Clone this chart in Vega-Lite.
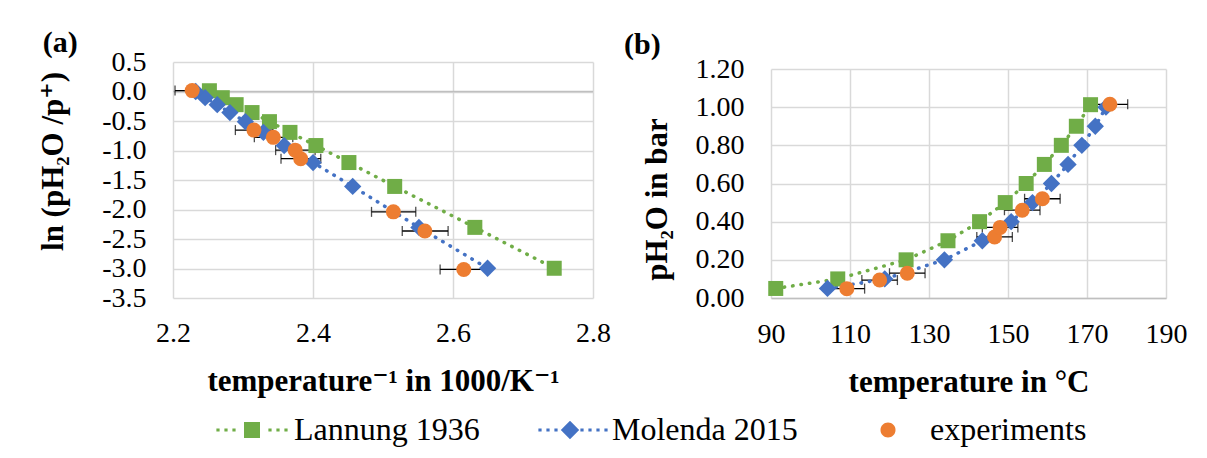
{
  "$schema": "https://vega.github.io/schema/vega-lite/v6.json",
  "background": "white",
  "padding": {"left": 37, "top": 28, "right": 5, "bottom": 5},
  "data": {"values": [
    {"series": "Lannung 1936", "T": 91.2, "p": 0.05, "invT": 2.7446, "lnp": -2.996},
    {"series": "Lannung 1936", "T": 106.9, "p": 0.10, "invT": 2.6312, "lnp": -2.303},
    {"series": "Lannung 1936", "T": 124.2, "p": 0.20, "invT": 2.5167, "lnp": -1.609},
    {"series": "Lannung 1936", "T": 134.8, "p": 0.30, "invT": 2.4513, "lnp": -1.204},
    {"series": "Lannung 1936", "T": 142.8, "p": 0.40, "invT": 2.4041, "lnp": -0.916},
    {"series": "Lannung 1936", "T": 149.3, "p": 0.50, "invT": 2.3671, "lnp": -0.693},
    {"series": "Lannung 1936", "T": 154.6, "p": 0.60, "invT": 2.3378, "lnp": -0.511},
    {"series": "Lannung 1936", "T": 159.2, "p": 0.70, "invT": 2.3129, "lnp": -0.357},
    {"series": "Lannung 1936", "T": 163.5, "p": 0.80, "invT": 2.2902, "lnp": -0.223},
    {"series": "Lannung 1936", "T": 167.3, "p": 0.90, "invT": 2.2704, "lnp": -0.105},
    {"series": "Lannung 1936", "T": 170.9, "p": 1.013, "invT": 2.2520, "lnp": 0.013},
    {"series": "Molenda 2015", "T": 104.3, "p": 0.05, "invT": 2.6494, "lnp": -2.996},
    {"series": "Molenda 2015", "T": 118.8, "p": 0.10, "invT": 2.5513, "lnp": -2.303},
    {"series": "Molenda 2015", "T": 133.9, "p": 0.20, "invT": 2.4567, "lnp": -1.609},
    {"series": "Molenda 2015", "T": 143.5, "p": 0.30, "invT": 2.4001, "lnp": -1.204},
    {"series": "Molenda 2015", "T": 150.8, "p": 0.40, "invT": 2.3588, "lnp": -0.916},
    {"series": "Molenda 2015", "T": 156.2, "p": 0.50, "invT": 2.3291, "lnp": -0.693},
    {"series": "Molenda 2015", "T": 161.0, "p": 0.60, "invT": 2.3034, "lnp": -0.511},
    {"series": "Molenda 2015", "T": 165.2, "p": 0.70, "invT": 2.2813, "lnp": -0.357},
    {"series": "Molenda 2015", "T": 168.7, "p": 0.80, "invT": 2.2632, "lnp": -0.223},
    {"series": "Molenda 2015", "T": 172.1, "p": 0.90, "invT": 2.2459, "lnp": -0.105},
    {"series": "Molenda 2015", "T": 174.8, "p": 1.00, "invT": 2.2324, "lnp": 0.0},
    {"series": "experiments", "T": 109.2, "p": 0.049, "invT": 2.6154, "lnp": -3.016, "T_lo": 104.7, "T_hi": 113.7, "inv_lo": 2.5816, "inv_hi": 2.6501},
    {"series": "experiments", "T": 117.5, "p": 0.094, "invT": 2.5598, "lnp": -2.364, "T_lo": 113.0, "T_hi": 122.0, "inv_lo": 2.5275, "inv_hi": 2.5930},
    {"series": "experiments", "T": 124.5, "p": 0.13, "invT": 2.5148, "lnp": -2.040, "T_lo": 120.0, "T_hi": 129.0, "inv_lo": 2.4836, "inv_hi": 2.5468},
    {"series": "experiments", "T": 146.6, "p": 0.32, "invT": 2.3824, "lnp": -1.139, "T_lo": 142.1, "T_hi": 151.1, "inv_lo": 2.3543, "inv_hi": 2.4111},
    {"series": "experiments", "T": 148.0, "p": 0.37, "invT": 2.3745, "lnp": -0.994, "T_lo": 143.5, "T_hi": 152.5, "inv_lo": 2.3466, "inv_hi": 2.4030},
    {"series": "experiments", "T": 153.6, "p": 0.46, "invT": 2.3433, "lnp": -0.777, "T_lo": 149.1, "T_hi": 158.1, "inv_lo": 2.3162, "inv_hi": 2.3711},
    {"series": "experiments", "T": 158.7, "p": 0.52, "invT": 2.3156, "lnp": -0.654, "T_lo": 154.2, "T_hi": 163.2, "inv_lo": 2.2891, "inv_hi": 2.3428},
    {"series": "experiments", "T": 175.8, "p": 1.015, "invT": 2.2274, "lnp": 0.015, "T_lo": 171.3, "T_hi": 180.3, "inv_lo": 2.2029, "inv_hi": 2.2525}
  ]},
  "bounds": "flush",
  "spacing": 178,
  "resolve": {"scale": {"color": "shared"}, "legend": {"color": "shared"}},
  "hconcat": [
    {
      "width": 420,
      "height": 236,
      "title": {"text": "(a)", "anchor": "start", "frame": "bounds", "offset": -10, "dx": 5},
      "encoding": {
        "x": {"field": "invT", "type": "quantitative", "title": "temperature⁻¹ in 1000/K⁻¹",
          "scale": {"domain": [2.2, 2.8], "nice": false, "zero": false},
          "axis": {"values": [2.2, 2.4, 2.6, 2.8], "format": ".1f", "labelPadding": 21, "titlePadding": 19}},
        "y": {"field": "lnp", "type": "quantitative", "title": "ln (pH₂O /p⁺)",
          "scale": {"domain": [-3.5, 0.5], "nice": false, "zero": false},
          "axis": {"values": [-3.5, -3.0, -2.5, -2.0, -1.5, -1.0, -0.5, 0.0, 0.5], "labelExpr": "replace(format(datum.value, '.1f'), '\u2212', '-')", "labelPadding": 27, "titlePadding": 32, "titleY": 99}}
      },
      "layer": [
        {"data": {"values": [{"zero": 0}]}, "mark": {"type": "rule", "color": "#BFBFBF", "strokeWidth": 1.5},
         "encoding": {"y": {"field": "zero", "type": "quantitative"}, "x": null}},
        {"transform": [{"filter": "datum.series === 'experiments'"}],
         "mark": {"type": "errorbar", "color": "black", "thickness": 1.3, "ticks": {"size": 10}},
         "encoding": {"x": {"field": "inv_lo", "type": "quantitative", "title": "temperature⁻¹ in 1000/K⁻¹"}, "x2": {"field": "inv_hi"}}},
        {"transform": [{"filter": "datum.series !== 'experiments'"}],
         "mark": {"type": "line", "strokeDash": [0.5, 8], "strokeCap": "round", "strokeWidth": 3.5},
         "encoding": {"color": {"field": "series", "type": "nominal",
           "scale": {"domain": ["Lannung 1936", "Molenda 2015", "experiments"], "range": ["#70AD47", "#4472C4", "#ED7D31"]},
           "legend": {"orient": "none", "legendX": 63, "legendY": 352, "direction": "horizontal", "title": null, "symbolSize": 256, "labelOffset": 26, "columnPadding": 54, "symbolStrokeWidth": 0, "labelLimit": 400,
             "encode": {"symbols": {"update": {
               "shape": {"signal": "datum.value === 'Lannung 1936' ? 'M-1,-1H1V1H-1Z M-4.45,-0.2h0.4v0.4h-0.4Z M-3.45,-0.2h0.4v0.4h-0.4Z M-2.45,-0.2h0.4v0.4h-0.4Z M2.05,-0.2h0.4v0.4h-0.4Z M3.05,-0.2h0.4v0.4h-0.4Z M4.05,-0.2h0.4v0.4h-0.4Z' : datum.value === 'Molenda 2015' ? 'M-4.45,0 M0,-1.15L1.15,0L0,1.15L-1.15,0Z M-3.95,-0.2h0.4v0.4h-0.4Z M-2.95,-0.2h0.4v0.4h-0.4Z M-1.95,-0.2h0.4v0.4h-0.4Z M1.3,-0.2h0.4v0.4h-0.4Z M2.3,-0.2h0.4v0.4h-0.4Z M3.3,-0.2h0.4v0.4h-0.4Z M4.3,-0.2h0.4v0.4h-0.4Z' : 'M-4.45,0 M-0.94,0a0.94,0.94 0 1,0 1.88,0a0.94,0.94 0 1,0 -1.88,0Z'"},
               "fill": {"signal": "scale('color', datum.value)"},
               "strokeWidth": {"value": 0},
               "opacity": {"value": 1}}}}}}}},
        {"transform": [{"filter": "datum.series === 'Lannung 1936'"}],
         "mark": {"type": "point", "shape": "square", "filled": true, "size": 225, "opacity": 1},
         "encoding": {"color": {"field": "series", "type": "nominal"}}},
        {"transform": [{"filter": "datum.series === 'Molenda 2015'"}],
         "mark": {"type": "point", "shape": "diamond", "filled": true, "size": 300, "opacity": 1},
         "encoding": {"color": {"field": "series", "type": "nominal"}}},
        {"transform": [{"filter": "datum.series === 'experiments'"}],
         "mark": {"type": "point", "shape": "circle", "filled": true, "size": 225, "opacity": 1},
         "encoding": {"color": {"field": "series", "type": "nominal"}}}
      ]
    },
    {
      "bounds": "flush",
      "spacing": 6,
      "resolve": {"scale": {"color": "shared"}, "legend": {"color": "shared"}},
      "vconcat": [
        {"width": 395, "height": 1, "data": {"values": []}, "mark": "point"},
        {
          "width": 395,
          "height": 229,
          "title": {"text": "(b)", "anchor": "start", "frame": "bounds", "offset": -5, "dx": -17},
          "encoding": {
            "x": {"field": "T", "type": "quantitative", "title": "temperature in °C",
              "scale": {"domain": [90, 190], "nice": false, "zero": false},
              "axis": {"values": [90, 110, 130, 150, 170, 190], "format": "d", "labelPadding": 22, "titlePadding": 19, "domain": true, "domainColor": "#BFBFBF", "domainWidth": 1.5}},
            "y": {"field": "p", "type": "quantitative", "title": "pH₂O in bar",
              "scale": {"domain": [0, 1.2], "nice": false},
              "axis": {"values": [0, 0.2, 0.4, 0.6, 0.8, 1.0, 1.2], "format": ".2f", "labelPadding": 27, "titlePadding": 22, "titleY": 130}}
          },
          "layer": [
            {"transform": [{"filter": "datum.series === 'experiments'"}],
             "mark": {"type": "errorbar", "color": "black", "thickness": 1.3, "ticks": {"size": 10}},
             "encoding": {"x": {"field": "T_lo", "type": "quantitative", "title": "temperature in °C"}, "x2": {"field": "T_hi"}}},
            {"transform": [{"filter": "datum.series !== 'experiments'"}],
             "mark": {"type": "line", "strokeDash": [0.5, 8], "strokeCap": "round", "strokeWidth": 3.5},
             "encoding": {"color": {"field": "series", "type": "nominal"}}},
            {"transform": [{"filter": "datum.series === 'Lannung 1936'"}],
             "mark": {"type": "point", "shape": "square", "filled": true, "size": 225, "opacity": 1},
             "encoding": {"color": {"field": "series", "type": "nominal"}}},
            {"transform": [{"filter": "datum.series === 'Molenda 2015'"}],
             "mark": {"type": "point", "shape": "diamond", "filled": true, "size": 300, "opacity": 1},
             "encoding": {"color": {"field": "series", "type": "nominal"}}},
            {"transform": [{"filter": "datum.series === 'experiments'"}],
             "mark": {"type": "point", "shape": "circle", "filled": true, "size": 225, "opacity": 1},
             "encoding": {"color": {"field": "series", "type": "nominal"}}}
          ]
        }
      ]
    }
  ],
  "config": {
    "font": "Times New Roman, Liberation Serif, DejaVu Serif, serif",
    "view": {"stroke": null},
    "axis": {
      "labelFont": "Times New Roman, Liberation Serif, DejaVu Serif, serif", "labelFontSize": 28, "labelColor": "black",
      "titleFont": "Times New Roman, Liberation Serif, DejaVu Serif, serif", "titleFontSize": 31, "titleFontWeight": "bold", "titleColor": "black",
      "grid": true, "gridColor": "#D9D9D9", "gridWidth": 1.5,
      "domain": false, "ticks": false, "tickSize": 0,
      "labelOverlap": false, "labelFlush": false, "labelBound": false
    },
    "title": {"font": "Times New Roman, Liberation Serif, DejaVu Serif, serif", "fontSize": 30, "fontWeight": "bold", "color": "black"},
    "legend": {"labelFont": "Times New Roman, Liberation Serif, DejaVu Serif, serif", "labelFontSize": 32, "labelColor": "black"}
  }
}
